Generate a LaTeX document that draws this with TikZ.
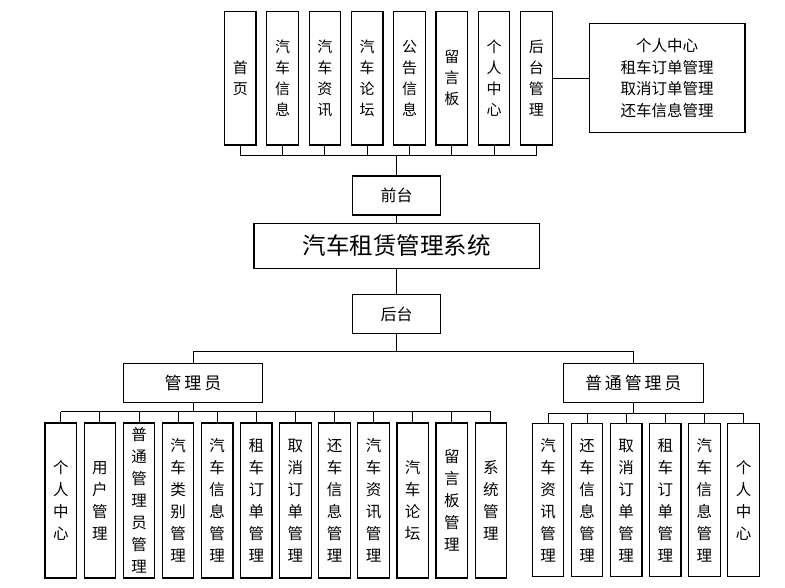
\documentclass[tikz,border=0pt]{standalone}
\usepackage{fontspec}
\setmainfont{Noto Sans CJK SC}
\usetikzlibrary{positioning}
\tikzset{
  box/.style={draw, line width=1.2pt, fill=white, inner sep=0pt, align=center},
  topbox/.style={box, minimum width=31.5pt, minimum height=133.3pt, font=\fontsize{15}{21}\selectfont},
  lowbox/.style={box, minimum width=31.5pt, minimum height=155pt, font=\fontsize{15.5}{22}\selectfont},
  midbox/.style={box, minimum width=88pt, minimum height=39pt, font=\fontsize{16}{20}\selectfont},
  rolebox/.style={box, minimum width=140pt, minimum height=39pt, font=\fontsize{17}{20}\selectfont},
  link/.style={line width=1pt}
}
\begin{document}
\begin{tikzpicture}[x=1pt, y=-1pt]
  \useasboundingbox (0,0) rectangle (785,587);
  % front end modules
  \foreach \txt [count=\i] in {首\\页, 汽\\车\\信\\息, 汽\\车\\资\\讯, 汽\\车\\论\\坛,
      公\\告\\信\\息, 留\\言\\板, 个\\人\\中\\心, 后\\台\\管\\理}
    \node[topbox] (t\i) at ({240.3+42.3*(\i-1)}, 78.3) {\txt};
  \node[box, minimum width=155.7pt, minimum height=109.4pt,
        font=\fontsize{15.5}{21.5}\selectfont] (info) at (667.2, 78)
    {个人中心\\租车订单管理\\取消订单管理\\还车信息管理};
  \draw[link] (t8.east |- info) -- (info.west);
  % centre column
  \node[midbox] (qt) at (396.7, 195.5) {前台};
  \node[box, minimum width=285.3pt, minimum height=45pt,
        font=\fontsize{23.5}{26}\selectfont] (sys) at (396.7, 245.8) {汽车租赁管理系统};
  \node[midbox] (ht) at (396.7, 314.2) {后台};
  \coordinate (topbus) at (396.7, 155.7);
  \foreach \i in {1,...,8}
    \draw[link] (t\i.south) -- (t\i.south |- topbus);
  \draw[line width=1.4pt] (t1.south |- topbus) -- (t8.south |- topbus);
  \draw[link] (topbus) -- (qt.north);
  \draw[link] (qt.south) -- (sys.north);
  \draw[link] (sys.south) -- (ht.north);
  % roles
  \node[rolebox, minimum width=139.4pt] (adm) at (193, 382.8) {管\,理\,员};
  \node[rolebox] (usr) at (633.3, 382.8) {普\,通\,管\,理\,员};
  \coordinate (rolebus) at (396.7, 351.7);
  \draw[link] (ht.south) -- (rolebus);
  \draw[link] (adm.north) |- (rolebus) -| (usr.north);
  % administrator modules
  \foreach \txt [count=\i] in {个\\人\\中\\心, 用\\户\\管\\理, 普\\通\\管\\理\\员\\管\\理,
      汽\\车\\类\\别\\管\\理, 汽\\车\\信\\息\\管\\理, 租\\车\\订\\单\\管\\理,
      取\\消\\订\\单\\管\\理, 还\\车\\信\\息\\管\\理, 汽\\车\\资\\讯\\管\\理,
      汽\\车\\论\\坛, 留\\言\\板\\管\\理, 系\\统\\管\\理}
    \node[lowbox] (a\i) at ({60.8+39.1*(\i-1)}, 500.5) {\txt};
  \coordinate (admbus) at (193, 411.7);
  \draw[link] (adm.south) -- (admbus);
  \foreach \i in {1,...,12}
    \draw[link] (a\i.north) -- (a\i.north |- admbus);
  \draw[line width=1.4pt] (a1.north |- admbus) -- (a12.north |- admbus);
  % ordinary administrator modules
  \foreach \txt [count=\i] in {汽\\车\\资\\讯\\管\\理, 还\\车\\信\\息\\管\\理,
      取\\消\\订\\单\\管\\理, 租\\车\\订\\单\\管\\理, 汽\\车\\信\\息\\管\\理, 个\\人\\中\\心}
    \node[lowbox, minimum height=153pt] (u\i) at ({548+39.1*(\i-1)}, 500.3) {\txt};
  \coordinate (usrbus) at (633.3, 413.3);
  \draw[link] (usr.south) -- (usrbus);
  \foreach \i in {1,...,6}
    \draw[link] (u\i.north) -- (u\i.north |- usrbus);
  \draw[line width=1.4pt] (u1.north |- usrbus) -- (u6.north |- usrbus);
\end{tikzpicture}
\end{document}
